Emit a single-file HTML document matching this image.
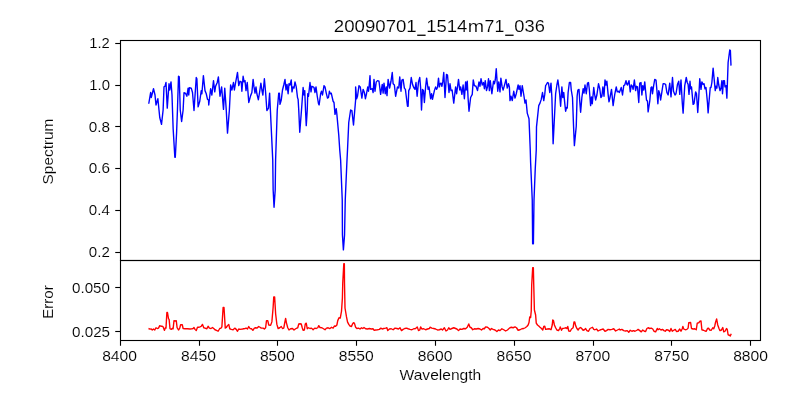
<!DOCTYPE html>
<html><head><meta charset="utf-8"><title>20090701_1514m71_036</title>
<style>html,body{margin:0;padding:0;background:#fff;}body{width:800px;height:400px;overflow:hidden;}svg{display:block;will-change:transform;}text{font-family:"Liberation Sans",sans-serif;fill:#000;stroke:#fff;stroke-width:0.12px;}</style></head><body>
<svg width="800" height="400" viewBox="0 0 800 400">
<rect x="0" y="0" width="800" height="400" fill="#ffffff"/>
<polyline fill="none" stroke="#0000ff" stroke-width="1.39" stroke-linejoin="round" stroke-linecap="butt" points="148.75,103.75 150.62,92.50 151.25,97.50 153.50,88.75 155.00,95.00 156.00,105.00 157.88,98.75 159.00,110.00 159.75,117.50 161.50,124.38 163.12,110.00 164.00,86.88 165.00,86.25 166.00,82.50 167.25,108.12 169.00,83.75 169.75,90.00 171.00,81.88 172.00,95.00 172.50,110.00 173.15,128.75 174.85,157.30 175.30,157.30 176.60,132.50 177.45,110.00 178.50,76.25 179.25,76.88 180.25,110.00 181.62,121.50 183.12,110.00 184.00,92.75 185.62,93.50 186.88,96.25 188.12,88.12 188.75,95.00 189.38,87.75 191.25,88.12 192.50,92.50 194.00,110.50 196.25,77.50 196.88,78.75 198.12,106.88 199.75,101.25 201.25,90.62 201.88,93.75 203.38,75.62 205.00,90.62 206.25,93.75 207.50,99.38 208.50,100.00 208.75,105.00 210.62,88.75 211.88,95.00 213.50,80.62 214.75,91.88 215.62,86.25 217.25,82.50 218.38,76.88 220.00,96.25 221.62,86.88 223.50,109.38 224.75,88.12 226.25,110.00 227.50,133.12 229.38,110.00 230.62,85.00 231.88,90.00 233.50,82.50 234.38,90.00 235.62,82.50 237.50,72.50 238.75,85.62 240.00,81.25 241.25,81.88 241.88,91.25 243.12,76.25 244.12,81.88 245.00,80.62 246.00,90.62 247.25,82.50 248.75,102.50 250.62,95.62 251.88,92.50 253.12,79.38 254.00,86.88 255.00,93.12 256.00,86.88 256.88,93.75 258.38,99.75 259.75,91.25 260.88,83.12 261.88,90.00 262.88,95.00 264.38,78.75 265.62,92.50 266.88,110.50 268.50,108.12 269.62,93.12 270.38,110.00 272.75,160.00 273.15,190.00 274.05,207.20 275.20,190.00 275.60,160.00 277.25,110.00 278.75,93.12 279.38,93.12 280.00,104.38 281.25,100.00 282.50,90.00 283.75,85.00 285.00,79.38 286.00,90.00 287.00,84.38 288.12,93.75 289.00,83.75 290.00,85.00 291.25,80.00 292.00,91.88 293.00,86.88 294.00,88.12 295.00,81.88 296.25,86.88 297.50,97.50 298.12,99.38 298.75,110.00 299.75,132.25 301.50,110.00 303.12,87.50 304.00,95.00 304.75,90.62 305.50,110.00 306.25,125.62 307.25,110.00 307.75,93.75 308.50,96.25 310.00,82.50 311.00,91.88 311.88,86.25 313.12,86.88 314.00,87.50 315.00,92.50 316.00,86.88 317.25,96.25 318.50,103.75 319.12,105.00 320.62,93.75 321.50,91.25 322.50,95.00 324.00,85.62 325.00,86.88 326.25,93.12 327.50,98.12 328.50,97.50 329.38,91.25 330.25,93.75 331.25,93.12 333.12,101.25 334.00,102.50 335.00,114.38 336.25,108.75 336.88,114.38 338.75,135.00 339.75,150.00 340.62,160.00 342.25,200.00 342.45,235.00 343.40,249.90 344.55,235.00 345.25,200.00 346.88,162.50 347.50,150.00 348.75,122.50 350.62,110.00 351.88,110.62 353.50,125.00 355.62,100.00 355.62,86.88 356.62,98.75 357.50,96.25 359.00,85.62 360.25,86.88 361.88,98.12 363.12,89.38 364.38,92.50 365.38,98.75 366.50,93.75 367.75,86.88 368.50,91.25 369.12,86.25 370.00,75.62 370.62,89.38 372.25,88.75 373.12,92.50 374.00,79.38 375.00,91.25 376.25,81.88 377.50,80.62 379.00,81.25 380.62,94.38 382.25,84.38 383.12,93.12 384.00,83.12 385.25,93.75 386.25,86.88 387.00,95.62 388.12,79.38 389.62,88.12 391.00,81.25 392.25,72.50 393.12,83.75 394.38,85.00 395.62,96.25 397.50,86.88 398.75,88.12 399.75,76.88 401.00,91.25 401.88,80.00 403.12,79.38 404.38,88.12 405.38,89.38 407.50,106.25 408.12,106.25 408.75,90.62 410.00,88.12 411.25,77.50 412.50,84.38 413.75,87.50 415.00,89.38 416.00,82.50 417.12,96.25 418.50,81.88 419.75,77.50 420.62,87.50 421.50,110.00 422.50,89.38 423.50,90.62 424.38,102.50 425.62,86.88 426.62,78.12 428.12,89.38 429.00,86.88 430.62,98.75 431.62,93.75 432.50,99.38 434.38,90.62 435.62,86.88 436.50,89.38 437.50,87.50 438.50,78.12 439.38,86.88 440.00,83.75 441.00,83.12 441.88,86.25 442.75,81.88 443.75,72.50 445.00,97.50 446.50,74.38 447.50,75.00 449.00,92.50 450.00,83.75 451.00,90.62 452.12,90.00 453.75,103.12 455.62,86.88 456.62,93.75 458.50,79.38 459.75,90.00 460.62,86.88 461.88,94.38 463.12,85.00 464.38,98.75 465.62,81.88 466.25,90.00 467.25,81.25 468.12,98.75 469.00,111.25 470.62,97.50 472.25,94.38 473.25,80.00 474.38,85.62 476.00,86.25 477.50,90.62 479.00,81.88 480.00,86.25 481.00,78.75 482.25,85.00 483.50,82.50 484.38,88.75 485.25,80.62 486.50,90.62 487.50,86.88 488.50,78.75 489.38,90.62 490.25,80.62 491.88,93.75 493.50,81.25 494.38,83.75 495.25,80.00 496.25,68.75 497.75,91.25 498.75,81.88 500.00,91.88 500.88,78.12 502.12,86.88 503.12,90.00 504.38,85.62 506.00,79.38 507.25,88.12 508.50,83.75 509.38,86.88 510.00,100.62 511.00,96.25 512.25,100.62 513.75,91.25 515.00,98.12 516.25,93.75 518.12,85.00 519.00,89.38 520.00,85.62 521.00,96.25 522.25,85.62 524.00,96.25 525.00,103.12 526.00,100.00 527.25,113.12 529.00,118.75 530.25,150.00 530.62,162.50 532.25,200.00 532.65,243.80 533.40,243.80 534.00,200.00 535.25,168.75 536.25,150.00 536.50,126.88 538.75,105.62 540.00,103.12 541.25,99.38 542.50,92.50 543.75,100.62 544.75,94.38 545.62,85.62 546.50,84.38 547.50,82.50 548.50,83.12 549.75,92.50 551.00,83.12 551.88,97.50 553.12,143.75 555.62,93.75 556.88,85.00 557.88,80.00 558.75,86.25 559.75,95.00 560.62,106.25 561.88,86.88 562.75,97.50 563.75,92.50 564.75,103.12 565.62,111.25 566.50,107.50 567.25,108.12 568.12,92.50 569.38,82.50 570.62,82.50 571.25,90.00 572.50,97.50 573.50,125.00 574.38,145.62 576.25,126.25 577.12,96.25 577.88,90.00 579.00,89.38 579.75,101.25 580.62,112.25 581.88,97.50 583.12,88.75 584.00,93.12 585.00,85.00 586.25,93.75 587.50,83.12 588.50,82.50 589.38,90.00 590.62,105.62 591.50,96.88 592.25,103.75 593.75,87.50 594.62,94.38 595.62,100.00 596.88,95.00 598.50,83.75 599.75,88.75 600.88,97.50 601.88,96.25 602.88,86.88 604.00,96.25 605.00,80.00 606.00,85.00 606.88,81.25 608.12,94.38 609.00,101.88 610.00,97.50 611.50,89.38 613.12,105.62 614.75,94.38 616.25,86.88 617.25,91.88 618.50,91.25 619.38,92.50 621.25,87.50 622.50,95.00 623.75,85.62 624.75,85.00 626.00,80.62 626.88,84.38 627.50,85.00 629.00,80.62 630.25,91.88 631.25,85.00 632.25,86.25 633.12,89.38 634.38,80.00 635.62,90.62 636.50,86.25 637.50,86.88 638.75,102.50 639.75,83.12 641.00,82.50 641.88,95.00 642.75,85.62 643.75,90.00 644.75,81.88 645.62,91.25 646.50,100.00 647.50,101.25 648.12,111.88 649.75,101.25 651.00,87.50 651.88,86.88 652.50,93.75 653.75,85.00 654.75,79.38 656.00,80.00 656.88,90.00 657.88,103.75 658.75,90.62 659.75,93.75 660.62,100.00 661.88,91.88 663.12,83.75 664.38,83.75 665.62,84.38 666.88,92.50 668.12,95.00 669.75,83.12 671.00,96.88 672.50,77.50 673.50,91.25 675.00,95.00 676.00,93.75 677.50,84.38 678.75,81.25 679.75,94.38 681.00,80.00 682.25,102.50 683.12,113.12 684.75,85.62 686.25,77.50 687.25,82.50 688.12,84.38 689.00,94.38 690.00,81.25 690.62,88.75 691.50,86.88 693.12,104.38 694.00,103.75 695.62,91.88 696.50,93.75 697.75,112.50 698.75,97.50 699.75,78.75 701.00,89.38 701.88,81.88 703.12,84.38 704.00,83.75 705.00,88.75 706.00,87.50 707.50,103.12 708.12,112.88 709.38,97.50 710.25,87.50 711.00,87.50 711.88,82.50 713.12,68.12 714.00,77.50 715.25,90.62 716.00,86.25 716.88,88.12 717.75,77.50 718.75,85.00 720.00,90.62 721.00,88.12 721.88,80.62 722.50,93.75 723.50,80.62 724.38,80.62 725.00,86.88 726.00,85.62 726.88,98.12 728.12,62.50 729.75,50.00 730.38,50.62 731.00,65.62"/>
<polyline fill="none" stroke="#ff0000" stroke-width="1.39" stroke-linejoin="round" stroke-linecap="butt" points="148.50,328.50 150.00,329.12 151.25,329.00 152.25,330.00 153.50,329.00 154.75,330.00 156.00,327.75 157.25,328.50 158.50,328.12 159.75,325.62 161.00,326.25 162.25,326.25 163.12,326.88 164.38,330.38 165.38,327.75 166.00,328.12 166.88,312.50 167.50,312.50 168.50,318.75 169.12,319.38 170.00,328.75 171.25,329.38 172.25,328.50 173.12,328.75 174.00,320.62 175.00,321.00 176.25,320.62 177.12,327.75 178.50,330.00 179.75,328.12 180.62,324.75 182.25,324.75 183.12,328.50 185.00,328.75 187.50,328.75 190.00,329.00 191.88,328.75 193.12,328.50 194.00,327.50 195.00,329.38 196.25,330.62 197.50,327.25 198.75,327.25 200.00,326.88 201.25,326.25 202.50,324.38 203.75,327.75 205.00,328.12 206.88,328.75 208.12,326.25 209.38,328.12 211.00,328.50 212.50,327.50 214.00,328.75 215.00,329.75 216.50,330.38 218.12,331.25 219.75,328.50 221.00,328.12 221.88,326.88 223.12,307.50 224.00,307.50 225.25,328.12 226.25,327.50 227.50,325.62 228.75,324.38 229.75,328.75 231.25,329.38 233.12,329.75 234.75,328.12 236.25,329.38 237.50,331.25 238.75,329.00 240.00,329.38 242.50,329.00 245.00,328.50 246.25,328.12 247.50,329.00 248.75,326.50 250.00,328.50 251.50,328.75 252.88,330.38 254.38,328.12 255.62,327.75 256.88,328.12 258.75,326.50 260.00,327.25 261.25,328.12 263.12,328.12 264.38,329.00 265.62,327.75 266.50,320.62 267.75,320.62 268.75,325.00 270.62,325.25 271.88,321.88 273.12,307.50 273.75,296.88 274.62,296.88 275.62,313.75 276.88,324.38 278.12,328.50 279.75,327.75 281.25,326.50 282.50,328.50 283.75,328.12 284.75,322.75 285.62,318.50 286.50,323.12 287.75,327.75 289.00,330.00 290.62,328.75 292.50,328.50 294.00,330.00 295.62,328.75 296.88,328.12 297.75,327.75 298.75,324.00 300.00,323.75 301.25,324.00 302.25,327.75 303.12,330.38 304.38,330.00 305.25,324.00 306.25,323.12 307.25,328.75 308.50,327.75 310.00,328.50 311.50,328.12 313.12,329.75 314.75,328.12 316.25,328.50 317.75,327.75 318.75,325.62 320.00,327.50 321.88,327.75 323.50,328.75 325.00,329.75 326.50,328.12 328.12,327.75 329.38,328.50 330.00,328.50 331.50,327.25 333.12,328.12 334.38,326.00 335.62,326.25 336.88,325.00 337.75,320.62 339.00,317.75 340.25,318.12 341.50,311.25 341.80,307.00 342.40,298.00 342.75,283.00 343.80,263.70 344.35,263.70 344.50,283.00 345.00,308.00 345.60,311.50 346.50,316.88 347.50,321.88 348.75,324.38 350.00,326.00 351.50,326.50 352.50,324.00 353.50,322.75 354.38,323.12 355.62,327.25 356.88,328.50 358.50,328.12 360.00,329.00 361.50,327.75 362.75,328.50 364.00,327.50 365.62,328.75 367.50,329.00 369.38,328.50 371.25,329.00 373.12,328.75 374.00,330.25 375.62,330.00 377.50,329.75 379.38,329.38 380.88,328.12 382.25,329.00 383.75,328.50 385.62,328.12 386.88,327.75 387.75,330.62 389.38,329.00 391.25,328.75 393.12,329.75 395.00,328.12 396.88,328.50 398.50,329.00 400.00,327.75 401.50,330.62 403.12,329.38 404.75,328.50 406.50,328.12 408.12,328.75 410.00,329.38 411.88,329.75 413.75,328.75 415.62,328.50 417.25,326.88 418.50,330.62 419.75,330.00 420.62,326.88 421.88,329.00 423.75,328.75 425.62,329.75 427.50,329.00 429.38,328.50 430.00,327.25 431.88,328.12 433.75,328.50 435.62,329.00 437.50,330.00 439.38,329.75 441.25,329.00 442.50,330.00 444.38,327.75 446.00,331.00 447.50,330.00 448.75,327.75 450.00,329.38 451.88,328.50 453.75,327.75 455.62,328.50 456.88,329.00 458.50,330.62 460.00,329.00 461.88,329.38 463.75,328.50 465.62,328.75 467.25,327.25 468.75,324.00 470.00,327.25 471.25,327.75 472.75,329.75 474.38,328.75 476.25,329.00 478.12,328.50 480.00,329.00 481.50,330.00 483.12,328.50 484.38,328.75 485.62,326.88 487.50,327.25 489.00,328.50 490.25,330.00 491.50,328.50 493.12,329.38 495.00,330.00 496.88,331.50 498.50,330.00 500.00,330.62 501.88,328.75 503.75,329.75 505.62,331.00 507.50,330.00 509.38,328.12 511.25,327.25 513.12,327.75 515.00,326.88 516.50,327.75 518.12,330.25 520.00,329.75 520.00,329.75 521.88,328.75 523.75,328.50 525.25,327.75 526.88,326.50 528.12,325.00 529.00,322.50 529.75,316.88 530.62,317.50 531.25,311.00 531.70,285.00 532.70,267.60 533.35,267.60 533.75,285.00 534.40,310.00 535.62,315.00 536.25,323.12 537.50,325.00 538.75,326.00 540.00,327.25 541.50,328.50 542.75,330.00 543.75,326.50 544.75,326.25 545.62,329.38 547.50,329.00 549.38,328.75 551.00,329.75 552.25,325.00 552.75,320.00 553.50,320.62 554.38,325.00 555.62,327.75 556.88,330.00 558.50,330.62 559.75,328.50 560.25,326.88 561.50,330.25 562.50,328.50 564.38,328.12 566.00,327.75 566.88,328.50 567.75,326.50 568.75,331.00 570.25,331.25 571.50,329.00 573.12,327.75 574.00,321.88 574.75,321.88 575.62,325.62 576.88,328.50 578.12,330.00 579.38,328.12 580.62,327.50 581.88,328.75 583.12,330.25 584.38,329.75 585.62,328.50 586.88,330.62 588.50,331.25 590.00,328.50 591.50,327.75 592.50,327.25 593.75,329.38 595.00,329.75 596.50,329.00 598.12,331.00 600.00,330.00 601.88,329.38 603.12,329.00 605.00,331.25 606.50,330.62 608.12,329.38 610.00,329.75 611.88,329.38 613.75,328.75 615.62,331.00 617.50,330.00 619.38,329.00 620.00,330.00 621.88,329.38 623.75,330.62 625.62,331.00 627.25,330.62 628.75,332.25 630.25,330.25 631.88,331.25 633.50,330.62 635.00,331.25 636.88,330.25 638.12,329.38 639.75,330.62 641.25,331.88 642.75,330.00 644.38,331.25 645.62,331.50 646.88,328.50 648.12,327.75 649.75,328.50 651.25,328.12 652.75,329.00 654.00,331.25 655.62,331.88 657.25,328.50 658.12,329.75 659.38,328.75 661.00,330.00 662.50,329.38 664.00,330.62 665.25,331.25 666.50,329.75 668.12,330.00 669.75,331.50 671.00,328.50 672.25,331.25 673.75,330.25 675.25,329.38 676.50,331.50 678.12,331.25 679.75,329.00 681.00,331.25 682.25,328.75 682.88,326.50 683.75,329.00 685.25,329.75 686.88,329.38 688.12,328.12 688.75,322.75 690.62,322.50 691.50,328.50 693.12,329.00 694.75,328.75 696.25,329.75 697.25,323.12 698.75,322.75 700.00,321.25 701.00,321.00 701.88,329.75 703.50,330.25 705.00,331.00 706.25,331.25 707.50,328.50 708.50,328.12 709.75,330.00 711.25,330.25 712.75,327.75 713.75,328.75 714.75,326.00 715.62,321.88 716.62,319.00 717.75,325.00 719.00,328.50 720.00,330.62 721.25,330.25 722.75,327.50 723.75,331.88 725.00,331.25 726.50,328.50 727.25,329.38 728.12,334.75 729.38,335.25 730.25,336.00 731.25,333.75"/>
<line x1="120.50" y1="340.50" x2="120.50" y2="345.76" stroke="#000" stroke-width="1.11"/>
<line x1="199.50" y1="340.50" x2="199.50" y2="345.76" stroke="#000" stroke-width="1.11"/>
<line x1="277.50" y1="340.50" x2="277.50" y2="345.76" stroke="#000" stroke-width="1.11"/>
<line x1="356.50" y1="340.50" x2="356.50" y2="345.76" stroke="#000" stroke-width="1.11"/>
<line x1="435.50" y1="340.50" x2="435.50" y2="345.76" stroke="#000" stroke-width="1.11"/>
<line x1="514.50" y1="340.50" x2="514.50" y2="345.76" stroke="#000" stroke-width="1.11"/>
<line x1="593.50" y1="340.50" x2="593.50" y2="345.76" stroke="#000" stroke-width="1.11"/>
<line x1="671.50" y1="340.50" x2="671.50" y2="345.76" stroke="#000" stroke-width="1.11"/>
<line x1="750.50" y1="340.50" x2="750.50" y2="345.76" stroke="#000" stroke-width="1.11"/>
<line x1="115.24" y1="43.50" x2="120.50" y2="43.50" stroke="#000" stroke-width="1.11"/>
<line x1="115.24" y1="85.50" x2="120.50" y2="85.50" stroke="#000" stroke-width="1.11"/>
<line x1="115.24" y1="126.50" x2="120.50" y2="126.50" stroke="#000" stroke-width="1.11"/>
<line x1="115.24" y1="168.50" x2="120.50" y2="168.50" stroke="#000" stroke-width="1.11"/>
<line x1="115.24" y1="210.50" x2="120.50" y2="210.50" stroke="#000" stroke-width="1.11"/>
<line x1="115.24" y1="252.50" x2="120.50" y2="252.50" stroke="#000" stroke-width="1.11"/>
<line x1="115.24" y1="287.50" x2="120.50" y2="287.50" stroke="#000" stroke-width="1.11"/>
<line x1="115.24" y1="331.50" x2="120.50" y2="331.50" stroke="#000" stroke-width="1.11"/>
<rect x="120.50" y="40.50" width="640.00" height="220.00" fill="none" stroke="#000" stroke-width="1.11"/>
<rect x="120.50" y="260.50" width="640.00" height="80.00" fill="none" stroke="#000" stroke-width="1.11"/>
<text x="333.86" y="31.95" font-size="17.40" textLength="82.87" lengthAdjust="spacingAndGlyphs">20090701</text>
<text x="426.34" y="31.95" font-size="17.40" textLength="41.06" lengthAdjust="spacingAndGlyphs">1514</text>
<text x="467.83" y="31.95" font-size="17.40" textLength="16.33" lengthAdjust="spacingAndGlyphs">m</text>
<text x="484.61" y="31.95" font-size="17.40" textLength="19.76" lengthAdjust="spacingAndGlyphs">71</text>
<text x="514.34" y="31.95" font-size="17.40" textLength="30.46" lengthAdjust="spacingAndGlyphs">036</text>
<text x="102.17" y="361.05" font-size="14.50" textLength="34.87" lengthAdjust="spacingAndGlyphs">8400</text>
<text x="181.05" y="361.05" font-size="14.50" textLength="34.87" lengthAdjust="spacingAndGlyphs">8450</text>
<text x="259.92" y="361.05" font-size="14.50" textLength="34.87" lengthAdjust="spacingAndGlyphs">8500</text>
<text x="338.80" y="361.05" font-size="14.50" textLength="34.87" lengthAdjust="spacingAndGlyphs">8550</text>
<text x="417.67" y="361.05" font-size="14.50" textLength="34.87" lengthAdjust="spacingAndGlyphs">8600</text>
<text x="496.55" y="361.05" font-size="14.50" textLength="34.87" lengthAdjust="spacingAndGlyphs">8650</text>
<text x="575.42" y="361.05" font-size="14.50" textLength="34.87" lengthAdjust="spacingAndGlyphs">8700</text>
<text x="654.30" y="361.05" font-size="14.50" textLength="34.87" lengthAdjust="spacingAndGlyphs">8750</text>
<text x="733.17" y="361.05" font-size="14.50" textLength="34.87" lengthAdjust="spacingAndGlyphs">8800</text>
<text x="89.25" y="47.95" font-size="14.50" textLength="20.56" lengthAdjust="spacingAndGlyphs">1.2</text>
<text x="89.24" y="89.95" font-size="14.50" textLength="20.72" lengthAdjust="spacingAndGlyphs">1.0</text>
<text x="88.84" y="131.95" font-size="14.50" textLength="21.27" lengthAdjust="spacingAndGlyphs">0.8</text>
<text x="88.84" y="172.95" font-size="14.50" textLength="21.27" lengthAdjust="spacingAndGlyphs">0.6</text>
<text x="88.85" y="214.95" font-size="14.50" textLength="20.99" lengthAdjust="spacingAndGlyphs">0.4</text>
<text x="88.85" y="256.95" font-size="14.50" textLength="20.98" lengthAdjust="spacingAndGlyphs">0.2</text>
<text x="72.05" y="292.95" font-size="14.50" textLength="37.92" lengthAdjust="spacingAndGlyphs">0.050</text>
<text x="72.04" y="336.95" font-size="14.50" textLength="38.06" lengthAdjust="spacingAndGlyphs">0.025</text>
<text x="399.57" y="379.80" font-size="14.50" textLength="81.73" lengthAdjust="spacingAndGlyphs">Wavelength</text>
<text transform="translate(53.00,184.40) rotate(-90)" font-size="14.50" textLength="65.79" lengthAdjust="spacingAndGlyphs">Spectrum</text>
<text transform="translate(53.05,318.70) rotate(-90)" font-size="14.50" textLength="33.44" lengthAdjust="spacingAndGlyphs">Error</text>
<rect x="417.20" y="34.6" width="8.40" height="1.3" fill="#000"/>
<rect x="505.20" y="34.6" width="8.40" height="1.3" fill="#000"/>
</svg></body></html>
